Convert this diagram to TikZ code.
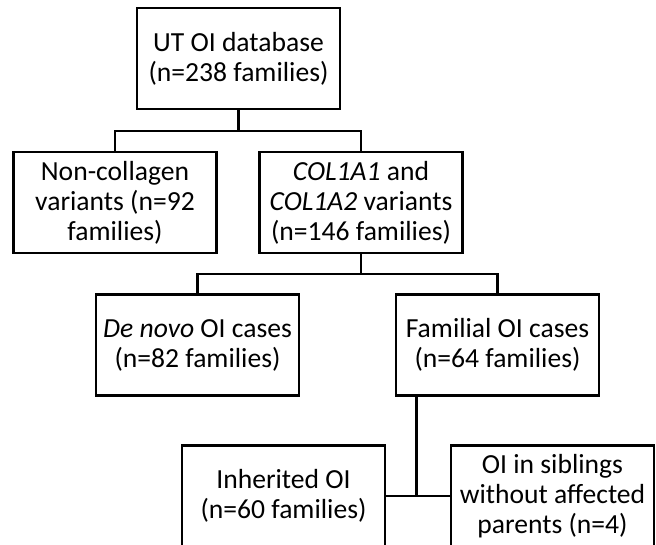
\documentclass[tikz,border=0pt]{standalone}
\usepackage{fontspec}
\setmainfont{Carlito}
\usetikzlibrary{positioning, calc}

\begin{document}
\begin{tikzpicture}[
  x=1pt, y=-1pt,
  box/.style={rectangle, draw, line width=2.6pt, minimum width=203pt, minimum height=101pt,
              inner sep=2pt, align=center, font=\fontsize{27.6}{30}\selectfont},
  link/.style={line width=2.8pt}
]
  \useasboundingbox (0,0) rectangle (656,544);

  % Row 1: database
  \node[box] (db) at (238.5, 58.5) {UT OI database\\(n=238 families)};

  % Row 2: collagen split
  \node[box] (noncol) at (115, 202.5) {Non-collagen\\variants (n=92\\families)};
  \node[box] (col) at (361, 202.5) {\textit{COL1A1} and\\\textit{COL1A2} variants\\(n=146 families)};
  \coordinate (j1) at (238.5, 131);
  \draw[link] (db.south) -- (j1);
  \draw[link] (noncol.north) |- (j1) -| (col.north);

  % Row 3: de novo vs familial
  \node[box] (denovo) at (197.5, 345) {\textit{De novo} OI cases\\(n=82 families)};
  \node[box] (familial) at (497.5, 345) {Familial OI cases\\(n=64 families)};
  \coordinate (j2) at (361, 274);
  \draw[link] (col.south) -- (j2);
  \draw[link] (denovo.north) |- (j2) -| (familial.north);

  % Row 4: familial split
  \node[box] (inherited) at (283.5, 496) {Inherited OI\\(n=60 families)};
  \node[box] (siblings) at (552.5, 496) {OI in siblings\\without affected\\parents (n=4)};
  \coordinate (j3) at (416.7, 496);
  \draw[link] (inherited.east) -- (siblings.west);
  \draw[link] (j3) -- (j3 |- familial.south);
\end{tikzpicture}
\end{document}
